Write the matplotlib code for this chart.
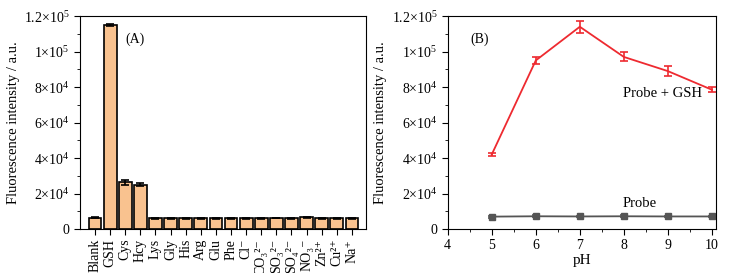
import matplotlib
matplotlib.use('Agg')
import matplotlib.pyplot as plt
import numpy as np
from matplotlib.ticker import FuncFormatter, MultipleLocator

plt.rcParams['font.family'] = ['Liberation Serif', 'DejaVu Serif']
plt.rcParams['mathtext.fontset'] = 'custom'
plt.rcParams['mathtext.rm'] = 'Liberation Serif'
plt.rcParams['mathtext.it'] = 'Liberation Serif:italic'
plt.rcParams['font.size'] = 10

# panel A data
species = ['Blank', 'GSH', 'Cys', 'Hcy', 'Lys', 'Gly', 'His', 'Arg', 'Glu', 'Phe',
           'Cl⁻', 'CO₃²⁻', 'SO₃²⁻', 'SO₄²⁻', 'NO₃⁻',
           'Zn²⁺', 'Cu²⁺', 'Na⁺']
intensity = [6500, 115000, 26300, 25000, 6000, 6000, 6000, 6000, 6000, 6000,
             6000, 6000, 6300, 6000, 6600, 6000, 6000, 6000]
intensity_err = [200, 800, 1500, 700, 150, 150, 150, 150, 150, 150,
                 150, 150, 200, 150, 200, 150, 150, 150]

# panel B data
ph = [5, 6, 7, 8, 9, 10]
probe_gsh = [42000, 95000, 114000, 97000, 89000, 78500]
probe_gsh_err = [1000, 1800, 3500, 2500, 3000, 1500]
probe = [7000, 7200, 7100, 7200, 7100, 7100]
probe_err = [600, 500, 500, 500, 500, 500]


def sci_fmt(v, pos):
    if v == 0:
        return '0'
    exp = int(np.floor(np.log10(abs(v)) + 1e-9))
    mant = v / 10 ** exp
    if abs(mant - round(mant)) < 1e-6:
        m = '%d' % round(mant)
    else:
        m = ('%.1f' % mant)
    return m + '×10$^{%d}$' % exp


def style_y(ax):
    ax.set_ylim(0, 120000)
    ax.yaxis.set_major_locator(MultipleLocator(20000))
    ax.yaxis.set_minor_locator(MultipleLocator(10000))
    ax.yaxis.set_major_formatter(FuncFormatter(sci_fmt))
    ax.set_ylabel('Fluorescence intensity / a.u.', fontsize=10.5, labelpad=3)
    ax.tick_params(axis='both', which='major', length=4, direction='out', labelsize=10)
    ax.tick_params(axis='both', which='minor', length=2, direction='out')


fig = plt.figure(figsize=(7.4, 2.73), dpi=100)

# (A) selectivity bars
ax1 = fig.add_axes([0.108, 0.161, 0.387, 0.78])
x = np.arange(len(species))
ax1.bar(x, intensity, width=0.85, color='#F9C28F', edgecolor='black', linewidth=1.2,
        yerr=intensity_err, capsize=3, error_kw=dict(ecolor='black', elinewidth=1.2, capthick=1.2))
ax1.set_xlim(-1.0, 17.95)
ax1.set_xticks(x)
ax1.set_xticklabels(species, rotation=90, fontsize=7.5)
for lab in ax1.get_xticklabels()[10:]:
    lab.set_fontsize(6.5)
ax1.tick_params(axis='x', length=0, pad=3)
style_y(ax1)
ax1.text(2.65, 107000, '(A)', fontsize=10, ha='center', va='center')

# (B) pH effect
ax2 = fig.add_axes([0.605, 0.161, 0.363, 0.78])
ax2.errorbar(ph, probe_gsh, yerr=probe_gsh_err, color='#EE2A30', linewidth=1.3,
             capsize=3, capthick=1.2, elinewidth=1.2)
ax2.errorbar(ph, probe, yerr=probe_err, color='#555555', linewidth=1.3, marker='s',
             markersize=4, capsize=3, capthick=1.2, elinewidth=1.2)
ax2.set_xlim(4, 10.1)
ax2.xaxis.set_major_locator(MultipleLocator(1))
ax2.xaxis.set_minor_locator(MultipleLocator(0.5))
ax2.set_xlabel('pH', fontsize=11, labelpad=1)
style_y(ax2)
ax2.text(4.72, 107000, '(B)', fontsize=10, ha='center', va='center')
ax2.text(7.98, 76500, 'Probe + GSH', fontsize=10.5, va='center')
ax2.text(7.98, 14600, 'Probe', fontsize=10.5, va='center')

fig.savefig('out.png', dpi=100)
